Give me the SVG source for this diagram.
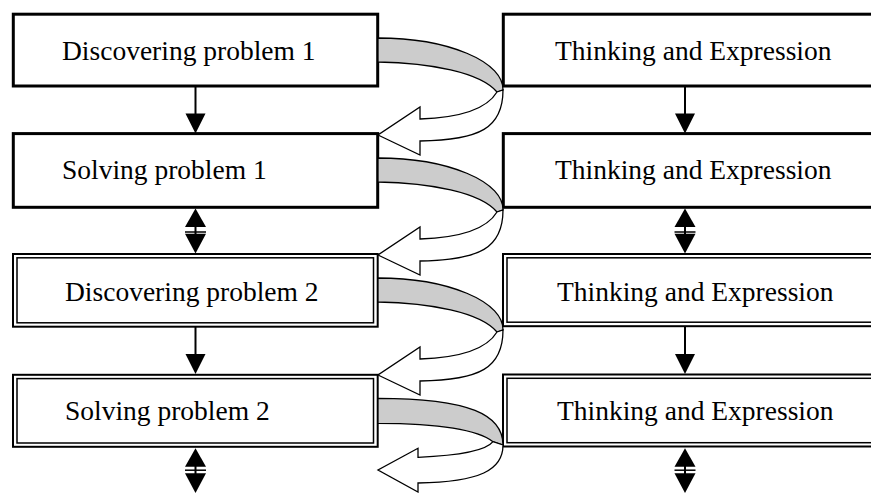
<svg xmlns="http://www.w3.org/2000/svg" xmlns:xlink="http://www.w3.org/1999/xlink" width="871" height="493" viewBox="0 0 871 493">
<style>
.box{fill:#fff;stroke:#000;stroke-width:3}
.dbo{fill:#fff;stroke:#000;stroke-width:2}
.dbi{fill:none;stroke:#000;stroke-width:1.5}
.lbl{font-family:"Liberation Serif","Times New Roman",serif;font-size:27.5px;fill:#000}
.ln{stroke:#000;stroke-width:2;fill:none}
.bar{stroke:#000;stroke-width:1.5;fill:none}
.head{fill:#000;stroke:none}
.gray{fill:#cccccc;stroke:#000;stroke-width:1.3;stroke-linejoin:round}
.white{fill:#fff;stroke:#000;stroke-width:1.3;stroke-linejoin:miter}
</style>
<defs>
<g id="curl">
<path class="gray" d="M378,38 A125,51.5 0 0 1 503,90 L497,92 C480,72 430,63 378,62 Z"/>
<path class="white" d="M503,90 C503,128 480,140 420,141 L420,155 L378,135 L420,107 L420,119 C450,118 485,112 497,92 Z"/>
</g>
<g id="down">
<line class="ln" x1="0" y1="0" x2="0" y2="28"/>
<polygon class="head" points="-10,27 10,27 0,47"/>
</g>
</defs>

<g id="node-discover1">
<rect class="box" x="13.3" y="14.2" width="364.4" height="71.8"/>
<text class="lbl" x="62" y="59.5">Discovering problem 1</text>
</g>
<g id="node-solve1">
<rect class="box" x="13.3" y="133.6" width="364.4" height="73.7"/>
<text class="lbl" x="62" y="179.3">Solving problem 1</text>
</g>
<g id="node-discover2">
<rect class="dbo" x="13" y="254" width="364.7" height="72.7"/>
<rect class="dbi" x="17" y="257.8" width="356.5" height="65"/>
<text class="lbl" x="65" y="301">Discovering problem 2</text>
</g>
<g id="node-solve2">
<rect class="dbo" x="13" y="374.8" width="364.7" height="72"/>
<rect class="dbi" x="17" y="378.6" width="356.5" height="64.4"/>
<text class="lbl" x="65" y="420">Solving problem 2</text>
</g>

<g id="node-think1">
<rect class="box" x="503.3" y="14.2" width="400" height="71.8"/>
<text class="lbl" x="555" y="60">Thinking and Expression</text>
</g>
<g id="node-think2">
<rect class="box" x="503.3" y="133.6" width="400" height="73.7"/>
<text class="lbl" x="555" y="179.3">Thinking and Expression</text>
</g>
<g id="node-think3">
<rect class="dbo" x="503" y="254" width="400" height="72.2"/>
<rect class="dbi" x="507" y="257.8" width="400" height="64.4"/>
<text class="lbl" x="557" y="300.7">Thinking and Expression</text>
</g>
<g id="node-think4">
<rect class="dbo" x="503" y="374.5" width="400" height="72"/>
<rect class="dbi" x="507" y="378.3" width="400" height="64.4"/>
<text class="lbl" x="557" y="420">Thinking and Expression</text>
</g>

<g id="connectors">
<use xlink:href="#down" href="#down" x="195.5" y="86.5"/>
<use xlink:href="#down" href="#down" x="685" y="86.5"/>
<use xlink:href="#down" href="#down" x="195.5" y="327"/>
<use xlink:href="#down" href="#down" x="685" y="327"/>

<g id="dbl-left-1">
<polygon class="head" points="195.5,208.5 185,227 206,227"/>
<line class="ln" x1="195.5" y1="226" x2="195.5" y2="234"/>
<line class="bar" x1="185" y1="232" x2="206" y2="232"/>
<polygon class="head" points="185,233.8 206,233.8 195.5,253.5"/>
</g>
<g id="dbl-right-1">
<polygon class="head" points="685,208.5 674.5,227 695.5,227"/>
<line class="ln" x1="685" y1="226" x2="685" y2="234"/>
<line class="bar" x1="674.5" y1="232" x2="695.5" y2="232"/>
<polygon class="head" points="674.5,233.8 695.5,233.8 685,253.5"/>
</g>
<g id="dbl-left-2">
<polygon class="head" points="195.5,448.3 185,466.7 206,466.7"/>
<line class="ln" x1="195.5" y1="466" x2="195.5" y2="474"/>
<line class="bar" x1="185" y1="470.2" x2="206" y2="470.2"/>
<polygon class="head" points="185,473.3 206,473.3 195.5,493"/>
</g>
<g id="dbl-right-2">
<polygon class="head" points="685,448.3 674.5,466.7 695.5,466.7"/>
<line class="ln" x1="685" y1="466" x2="685" y2="474"/>
<line class="bar" x1="674.5" y1="470.2" x2="695.5" y2="470.2"/>
<polygon class="head" points="674.5,473.3 695.5,473.3 685,493"/>
</g>

<use xlink:href="#curl" href="#curl" x="0" y="0"/>
<use xlink:href="#curl" href="#curl" x="0" y="120"/>
<use xlink:href="#curl" href="#curl" x="0" y="240"/>
<g id="curl4">
<path class="gray" d="M378,398.3 C470,398.3 503,415 503,445 L493,441.7 C476,428 430,423.5 378,423.3 Z"/>
<path class="white" d="M503,445 C503,470 480,482 418,483 L418,492 L378,470 L418,448.3 L418,457.3 C450,456 485,452 493,441.7 Z"/>
</g>
</g>
</svg>
